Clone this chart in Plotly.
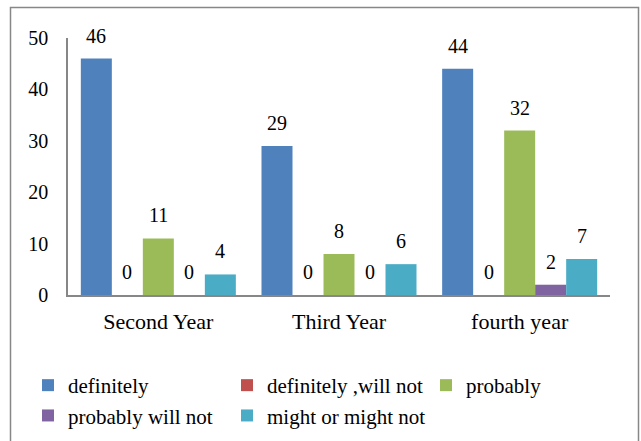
import plotly.graph_objects as go

categories = ["Second Year", "Third Year", "fourth year"]
series_names = ["definitely", "definitely ,will not", "probably",
                "probably will not", "might or might not"]
definitely = [46, 29, 44]
definitely_will_not = [0, 0, 0]
probably = [11, 8, 32]
probably_will_not = [0, 0, 2]
might_or_might_not = [4, 6, 7]
y_ticks = [0, 10, 20, 30, 40, 50]

series_values = [definitely, definitely_will_not, probably,
                 probably_will_not, might_or_might_not]
colors = ["#4F81BD", "#C0504D", "#9BBB59", "#8064A2", "#4BACC6"]

W, H = 641, 441
ML, MR, MT, MB = 68, 31, 38, 146
BARGAP = 0.142
FONT = "Liberation Serif, Times New Roman, serif"

fig = go.Figure()
for name, vals, col in zip(series_names, series_values, colors):
    fig.add_trace(go.Bar(x=categories, y=vals, name=name,
                         marker=dict(color=col, line=dict(width=0))))

# value labels above each bar
n = len(series_values)
slot = (1 - BARGAP) / n
for i, vals in enumerate(series_values):
    for j, v in enumerate(vals):
        fig.add_annotation(x=j - (1 - BARGAP) / 2 + (i + 0.5) * slot, y=v,
                           xref="x", yref="y", text=str(v), showarrow=False,
                           yanchor="bottom", yshift=10,
                           font=dict(family=FONT, size=20, color="#000000"))

pw = W - ML - MR
ph = H - MT - MB
def px_x(p):
    return (p - ML) / pw
def px_y(p):
    return (H - MB - p) / ph

# outer chart frame
fig.add_shape(type="rect", xref="paper", yref="paper",
              x0=px_x(10.5), x1=px_x(638.5), y0=px_y(446), y1=px_y(7.5),
              line=dict(color="#878787", width=1.5), fillcolor="rgba(0,0,0,0)",
              layer="below")

fig.update_layout(
    width=W, height=H,
    margin=dict(l=ML, r=MR, t=MT, b=MB, autoexpand=False),
    paper_bgcolor="white", plot_bgcolor="white",
    barmode="group", bargap=BARGAP, bargroupgap=0,
    font=dict(family=FONT, size=21, color="#000000"),
    showlegend=True,
    legend=dict(orientation="h", x=px_x(28), xanchor="left",
                y=px_y(365), yanchor="top",
                entrywidth=154, entrywidthmode="pixels",
                font=dict(family=FONT, size=21, color="#000000"),
                itemwidth=30, traceorder="normal", bgcolor="rgba(0,0,0,0)"),
    xaxis=dict(showline=True, linecolor="#878787", linewidth=1.5,
               showgrid=False, ticks="", ticklabelstandoff=6,
               tickfont=dict(family=FONT, size=22)),
    yaxis=dict(range=[0, 50], tickvals=y_ticks, showline=True,
               linecolor="#878787", linewidth=1.5, showgrid=False,
               zeroline=False, ticks="", ticklabelstandoff=14,
               tickfont=dict(family=FONT, size=20)),
)

fig.write_html("out.html")
